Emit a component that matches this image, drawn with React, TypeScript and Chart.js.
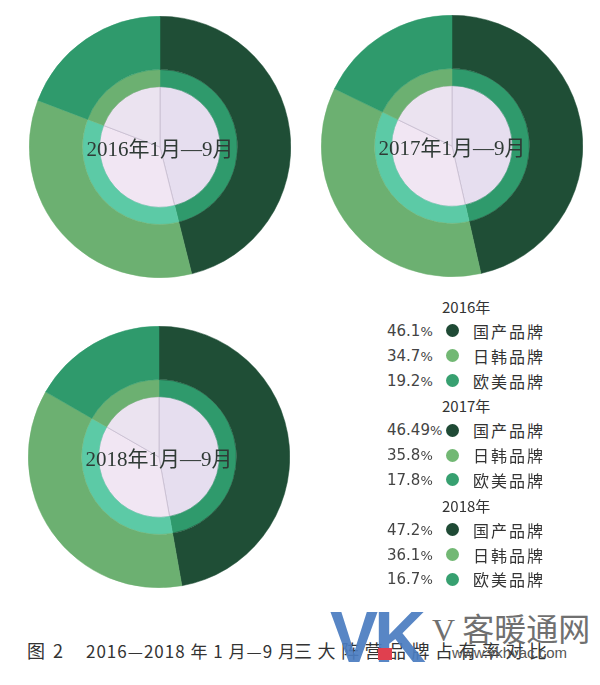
import React, { useEffect, useRef } from 'react';
import { Chart, registerables } from 'chart.js';
Chart.register(...registerables);

const brands = ['国产品牌', '日韩品牌', '欧美品牌'];
const periods = ['2016年1月—9月', '2017年1月—9月', '2018年1月—9月'];
const legendYears = ['2016年', '2017年', '2018年'];
const share2016 = [46.1, 34.7, 19.2];
const share2017 = [46.49, 35.8, 17.8];
const share2018 = [47.2, 36.1, 16.7];
const shares = [share2016, share2017, share2018];
const captionNo = '图 2';
const captionDate = '2016—2018 年 1 月—9 月';
const captionTitle = '三大阵营品牌占有率对比';

const outerColors = ['#1f4e36', '#6cb071', '#2f9a6c'];
const innerColors = ['#2f9a6c', '#5ccaa6', '#6cb071'];
const coreColors = ['#e6deef', '#f1e6f3', '#ebe3f0'];
const dotColors = ['#1f4a35', '#72b874', '#37a070'];

const centers = [
  { x: 160, y: 147 },
  { x: 452, y: 146 },
  { x: 159, y: 457 },
];
const SIZE = 262;

function Ring({ values, cx, cy, label }: { values: number[]; cx: number; cy: number; label: string }) {
  const ref = useRef<HTMLCanvasElement | null>(null);
  useEffect(() => {
    if (!ref.current) return;
    const chart = new Chart(ref.current, {
      type: 'doughnut',
      data: {
        labels: brands,
        datasets: [
          { data: values, backgroundColor: outerColors, borderColor: outerColors, borderWidth: 0.5, weight: 53 } as any,
          { data: values, backgroundColor: innerColors, borderColor: innerColors, borderWidth: 0.5, weight: 17 } as any,
          { data: values, backgroundColor: coreColors, borderColor: '#c6bccf', borderWidth: 0.8, weight: 60 } as any,
        ],
      },
      options: {
        responsive: false,
        animation: false,
        cutout: 0,
        layout: { padding: 0 },
        plugins: { legend: { display: false }, tooltip: { enabled: false } },
      } as any,
    });
    return () => chart.destroy();
  }, [values]);
  return (
    <>
      <canvas
        ref={ref}
        width={SIZE}
        height={SIZE}
        style={{ position: 'absolute', left: cx - SIZE / 2, top: cy - SIZE / 2, width: SIZE, height: SIZE }}
      />
      <div
        style={{
          position: 'absolute',
          left: cx,
          top: cy,
          transform: 'translate(-50%, -50%)',
          whiteSpace: 'nowrap',
          font: '21px "Liberation Serif", "Noto Sans CJK SC", serif',
          color: '#2f3a35',
        }}
      >
        {label}
      </div>
    </>
  );
}

export default function App() {
  const legendItems: React.ReactNode[] = [];
  legendYears.forEach((yr, k) => {
    const baseY = 306 + k * 4 * 24.85;
    legendItems.push(
      <div
        key={'h' + k}
        style={{ position: 'absolute', left: 442, top: baseY, transform: 'translateY(-50%)', font: '15px "Noto Sans CJK SC", sans-serif', color: '#333', whiteSpace: 'nowrap' }}
      >
        {yr}
      </div>
    );
    shares[k].forEach((v, j) => {
      const y = baseY + (j + 1) * 24.85;
      legendItems.push(
        <div key={'p' + k + j} style={{ position: 'absolute', left: 387, top: y, transform: 'translateY(-50%)', font: '15px "DejaVu Sans", sans-serif', color: '#444', whiteSpace: 'nowrap' }}>
          {v}
          <span style={{ fontSize: 13 }}>%</span>
        </div>,
        <div key={'d' + k + j} style={{ position: 'absolute', left: 452 - 6.5, top: y - 6.5, width: 13, height: 13, borderRadius: '50%', background: dotColors[j] }} />,
        <div key={'l' + k + j} style={{ position: 'absolute', left: 473, top: y, transform: 'translateY(-50%)', font: '16px "Noto Sans CJK SC", sans-serif', letterSpacing: 2, color: '#333', whiteSpace: 'nowrap' }}>
          {brands[j]}
        </div>
      );
    });
  });

  const capStyle: React.CSSProperties = { position: 'absolute', top: 650, transform: 'translateY(-50%)', font: '18px "Noto Sans CJK SC", sans-serif', color: '#333', whiteSpace: 'nowrap' };

  return (
    <div style={{ position: 'absolute', left: 0, top: 0, width: 600, height: 685, background: '#fff', overflow: 'hidden' }}>
      {shares.map((vals, i) => (
        <Ring key={i} values={vals} cx={centers[i].x} cy={centers[i].y} label={periods[i]} />
      ))}
      {legendItems}
      <div style={{ ...capStyle, left: 27, letterSpacing: 2 }}>{captionNo}</div>
      <div style={{ ...capStyle, left: 86, fontSize: 17, letterSpacing: 1 }}>{captionDate}</div>
      <div style={{ ...capStyle, left: 294, letterSpacing: 5.5 }}>{captionTitle}</div>
      <div style={{ position: 'absolute', left: 330, top: 596, font: 'bold 72px "Liberation Sans", sans-serif', color: 'rgba(74,124,192,0.92)', letterSpacing: -4, whiteSpace: 'nowrap' }}>
        VK
      </div>
      <div style={{ position: 'absolute', left: 378, top: 648, width: 14, height: 12, background: '#e0404f' }} />
      <div style={{ position: 'absolute', left: 432, top: 604, font: '32px "Noto Sans CJK SC", serif', color: '#707070', whiteSpace: 'nowrap' }}>
        <span style={{ fontFamily: '"Liberation Serif", serif' }}>V</span> 客暖通网
      </div>
      <div style={{ position: 'absolute', left: 452, top: 652, transform: 'translateY(-50%)', font: '15px "Liberation Sans", sans-serif', color: '#555', whiteSpace: 'nowrap' }}>
        www.vkhvac.com
      </div>
    </div>
  );
}
